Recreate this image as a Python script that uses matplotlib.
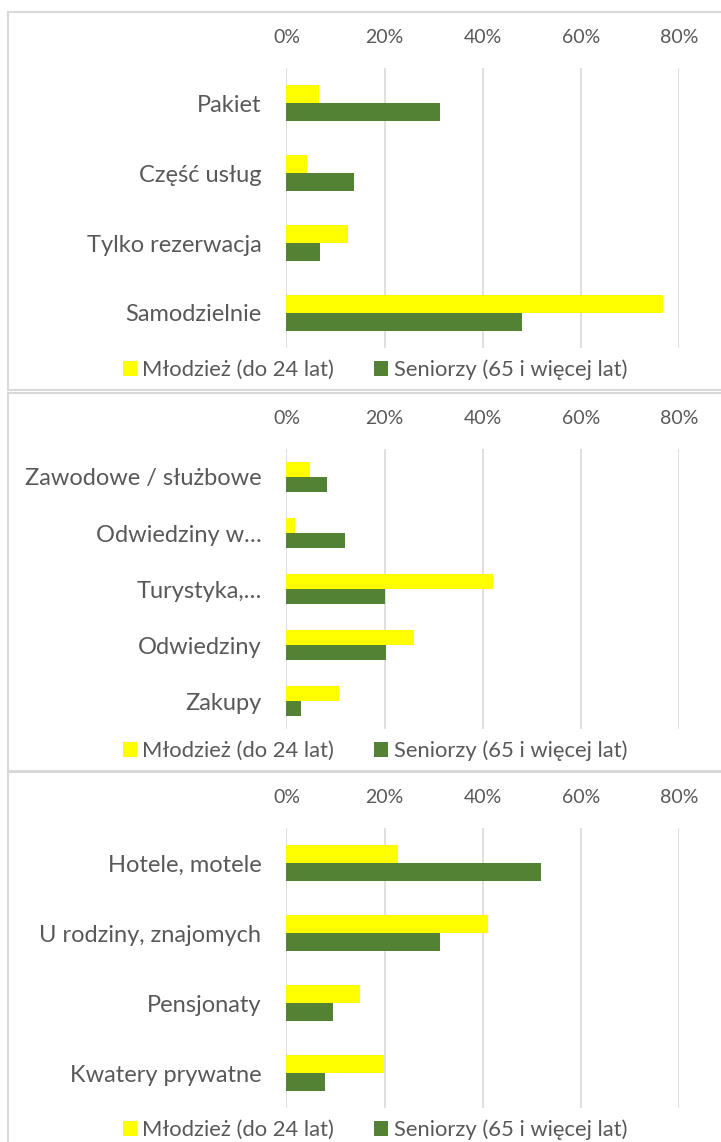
import matplotlib.pyplot as plt
import numpy as np
from matplotlib.lines import Line2D

plt.rcParams['font.family'] = ['Lato', 'DejaVu Sans']

series_names = ["Młodzież (do 24 lat)", "Seniorzy (65 i więcej lat)"]
colors = ["#FFFF00", "#548235"]
ticks = [0.0, 0.2, 0.4, 0.6, 0.8]
tick_labels = ["0%", "20%", "40%", "60%", "80%"]

# panel 1: sposób organizacji
cats_1 = ["Pakiet", "Część usług", "Tylko rezerwacja", "Samodzielnie"]
young_1 = [0.066, 0.042, 0.125, 0.767]
senior_1 = [0.313, 0.137, 0.069, 0.480]

# panel 2: cel podróży
cats_2 = ["Zawodowe / służbowe", "Odwiedziny w…", "Turystyka,…", "Odwiedziny", "Zakupy"]
young_2 = [0.049, 0.017, 0.420, 0.259, 0.107]
senior_2 = [0.083, 0.120, 0.200, 0.203, 0.030]

# panel 3: zakwaterowanie
cats_3 = ["Hotele, motele", "U rodziny, znajomych", "Pensjonaty", "Kwatery prywatne"]
young_3 = [0.228, 0.410, 0.150, 0.199]
senior_3 = [0.519, 0.312, 0.095, 0.079]

W, H = 721, 1142
TEXT = "#595959"
GRID = "#d9d9d9"

fig = plt.figure(figsize=(W / 100, H / 100), dpi=100)


def panel(top_px, cats, young, senior):
    # frame around the panel
    box_bottom = top_px + 378
    for xs, ys in [([8, 730], [top_px, top_px]), ([8, 8], [top_px, box_bottom]),
                   ([8, 730], [box_bottom, box_bottom])]:
        fig.add_artist(Line2D([x / W for x in xs], [1 - y / H for y in ys],
                              color=GRID, lw=1.5, transform=fig.transFigure))

    x0, x1 = 286.4, 679
    g_top, g_bot = top_px + 56, top_px + 336
    ax = fig.add_axes([x0 / W, 1 - g_bot / H, (x1 - x0) / W, (g_bot - g_top) / H])
    n = len(cats)
    y = np.arange(n)
    h = 0.26
    ax.barh(y - h / 2, young, height=h, color=colors[0], label=series_names[0], zorder=3)
    ax.barh(y + h / 2, senior, height=h, color=colors[1], label=series_names[1], zorder=3)
    ax.set_ylim(n - 0.5, -0.5)
    ax.set_xlim(0, 0.8)
    ax.set_yticks(y)
    ax.set_yticklabels(cats, fontsize=17, color=TEXT)
    ax.set_xticks(ticks)
    ax.set_xticklabels(tick_labels, fontsize=14, color=TEXT)
    ax.xaxis.tick_top()
    ax.tick_params(axis="x", length=0, pad=16)
    ax.tick_params(axis="y", length=0, pad=18)
    ax.grid(axis="x", color=GRID, lw=1.2, zorder=0)
    for s in ax.spines.values():
        s.set_visible(False)
    ax.set_facecolor("none")

    ax.legend(loc="center", bbox_to_anchor=(375 / W, 1 - (top_px + 358) / H),
              bbox_transform=fig.transFigure, ncol=2, frameon=False,
              fontsize=15.8, labelcolor=TEXT, handlelength=0.62, handleheight=0.62,
              handletextpad=0.25, columnspacing=1.85, borderaxespad=0, borderpad=0)


panel(12, cats_1, young_1, senior_1)
panel(393, cats_2, young_2, senior_2)
panel(772, cats_3, young_3, senior_3)

fig.savefig("out.png", dpi=100, facecolor="white")
